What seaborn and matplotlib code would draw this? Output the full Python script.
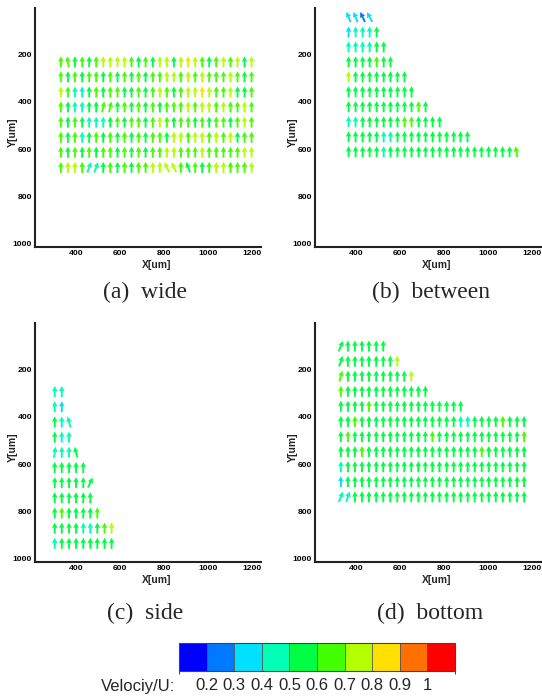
import numpy as np
import matplotlib
matplotlib.use("Agg")
import matplotlib.pyplot as plt
import seaborn as sns
from matplotlib.colors import ListedColormap, BoundaryNorm
from matplotlib.ticker import MultipleLocator
from matplotlib.cm import ScalarMappable

sns.set_style("white")
plt.rcParams["font.family"] = ["Liberation Sans", "DejaVu Sans"]

# ---------------- data ----------------
# velocity class per arrow: digit d -> Velocity/U in bin [d/10, d/10+0.1)
x_a = [330, 362, 394, 427, 459, 491, 523, 555, 588, 620, 652, 684, 716, 749,
       781, 813, 845, 877, 910, 942, 974, 1006, 1038, 1071, 1103, 1135, 1167, 1199]
y_a = [232, 295, 359, 422, 486, 550, 613, 677]
vel_a = ["6656567777656577578765676757",
         "6565665656565667767676667656",
         "7644565665565676567787667556",
         "6544556656565656667677676676",
         "6565444565665676566565665676",
         "6564565656565665776776767566",
         "6565656656565667766676666677",
         "6776445656566777765656776667"]
tilt_a = {(7, 4): -20, (7, 5): -20, (7, 15): 25, (7, 16): 25, (7, 18): 20,
          (3, 6): -12, (3, 7): -12, (0, 1): 8}

x_b = [365, 397, 429, 461, 493, 525, 556, 588, 620, 652, 684, 716, 748, 780,
       812, 844, 875, 907, 939, 971, 1003, 1035, 1067, 1099, 1130]
y_b = [43, 106, 169, 232, 295, 358, 421, 485, 548, 611]
vel_b = ["3323", "34445", "444455", "5555655", "755555555", "5555555555",
         "555555555565", "44555555665555", "555554455555555555",
         "5555545555555555555555556"]
tilt_b = {(0, 0): 22, (0, 1): 22, (0, 2): 25, (0, 3): 28, (9, 24): 10}

x_c = [302, 334, 367, 399, 432, 464, 496, 529, 561]
y_c = [294, 358, 422, 486, 550, 614, 678, 742, 806, 870, 934]
vel_c = ["44", "43", "544", "544", "4445", "55555", "555555", "555555",
         "5655556", "555544567", "455555555"]
tilt_c = {(2, 2): 15, (4, 3): 15, (6, 5): -25, (4, 0): -8}

x_d = [330, 362, 394, 426, 458, 491, 523, 555, 587, 619, 651, 683, 715, 747,
       779, 812, 844, 876, 908, 940, 972, 1004, 1036, 1068, 1100, 1133, 1165]
y_d = [102, 166, 229, 293, 356, 420, 484, 547, 611, 674, 738]
vel_d = ["5555555", "555555557", "65555555557", "6555555555555",
         "555565555555555555",
         "556555555555555554455556555",
         "565555555555565555555555556",
         "555655555555555555556555555",
         "455555555555555555555555555",
         "355555555555555555555555555",
         "445555555555555555555555555"]
tilt_d = {(0, 0): -22, (1, 0): -20, (2, 0): -15, (10, 0): -22, (10, 1): -18}

captions = ["(a)  wide", "(b)  between", "(c)  side", "(d)  bottom"]
levels = [0.1475, 0.2, 0.3, 0.4, 0.5, 0.6, 0.7, 0.8, 0.9, 1.0, 1.0525]
level_labels = ["0.2", "0.3", "0.4", "0.5", "0.6", "0.7", "0.8", "0.9", "1"]
colors = ["#0000FF", "#0078FF", "#00E0FF", "#00FFB4", "#00FF44",
          "#44FF00", "#B4FF00", "#FFE000", "#FF7000", "#FF0000"]

# ---------------- figure ----------------
W, H = 542, 697
fig = plt.figure(figsize=(W / 100, H / 100), dpi=100)
cmap = ListedColormap(colors)
norm = BoundaryNorm(levels, cmap.N)

AW, AH = 226, 239
panels = [
    (35, 247, x_a, y_a, vel_a, tilt_a, (145, 292)),
    (315, 247, x_b, y_b, vel_b, tilt_b, (431, 292)),
    (35, 562, x_c, y_c, vel_c, tilt_c, (145, 613)),
    (315, 562, x_d, y_d, vel_d, tilt_d, (430, 613)),
]

for (lp, bp, xs, ys, vel, tilt, cap_xy), cap in zip(panels, captions):
    ax = fig.add_axes([lp / W, 1 - bp / H, AW / W, AH / H])
    X, Y, U, V, C = [], [], [], [], []
    for r, (yv, row) in enumerate(zip(ys, vel)):
        for c, ch in enumerate(row):
            ang = np.radians(tilt.get((r, c), 0))
            X.append(xs[c]); Y.append(yv)
            U.append(-np.sin(ang)); V.append(np.cos(ang))
            C.append(int(ch) / 10 + 0.05)
    ax.quiver(X, Y, U, V, C, cmap=cmap, norm=norm, angles="uv", pivot="middle",
              scale_units="inches", scale=9, units="dots", width=1.9,
              headwidth=3.0, headlength=2.9, headaxislength=2.6)
    ax.set_xlim(212, 1242)
    ax.set_ylim(1013, 5)
    ax.set_xticks([400, 600, 800, 1000, 1200])
    ax.set_yticks([200, 400, 600, 800, 1000])
    ax.xaxis.set_minor_locator(MultipleLocator(50))
    ax.yaxis.set_minor_locator(MultipleLocator(50))
    ax.tick_params(which="major", direction="in", length=4, width=1, pad=2,
                   labelsize=6.1, colors="black")
    ax.tick_params(which="minor", direction="in", length=2, width=0.6, colors="#555555")
    for lab in ax.get_xticklabels() + ax.get_yticklabels():
        lab.set_fontweight("bold")
    sns.despine(ax=ax)
    for s in ("left", "bottom"):
        ax.spines[s].set_linewidth(1.5)
        ax.spines[s].set_color("#222222")
    ax.set_xlabel("X[um]", fontsize=7.5, fontweight="bold")
    ax.set_ylabel("Y[um]", fontsize=7.5, fontweight="bold")
    ax.xaxis.set_label_coords(0.54, -0.054)
    ax.yaxis.set_label_coords(-0.075, 0.48)
    fig.text(cap_xy[0] / W, 1 - cap_xy[1] / H, cap, ha="center", va="center",
             fontsize=17, family="Liberation Serif")

# colour legend
cax = fig.add_axes([179 / W, 1 - 671 / H, 276 / W, 28 / H])
cb = fig.colorbar(ScalarMappable(norm=norm, cmap=cmap), cax=cax,
                  orientation="horizontal", ticks=levels[1:-1], drawedges=True)
cb.set_ticklabels(level_labels)
cb.outline.set_linewidth(0.8)
cb.outline.set_edgecolor("#444444")
cb.dividers.set_color("#555555")
cb.dividers.set_linewidth(0.6)
cax.tick_params(length=0, pad=5, labelsize=12)
fig.text(175 / W, 1 - 686 / H, "Velociy/U:", ha="right", va="center", fontsize=12)

fig.savefig("out.png", dpi=100)
